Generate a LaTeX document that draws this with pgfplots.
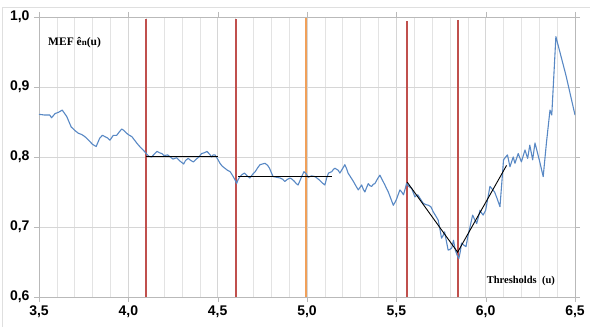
\documentclass[border=0pt]{standalone}
\usepackage{pgfplots}
\pgfplotsset{compat=1.18}
\usepackage{fontspec}
\setmainfont{Liberation Serif}
\newfontfamily\arial{Liberation Sans}
\definecolor{mefblue}{RGB}{88,136,196}
\definecolor{xlred}{RGB}{192,80,77}
\definecolor{xlorange}{RGB}{240,160,90}
\begin{document}
\begin{tikzpicture}
\path[use as bounding box] (0,0) rectangle (590pt,327pt);
\draw[gray!25] (2pt,0) -- (2pt,320pt) -- (590pt,320pt);
\begin{axis}[at={(39pt,30pt)}, anchor=south west, scale only axis,
  width=536pt, height=280pt,
  xmin=3.5, xmax=6.5, ymin=0.6, ymax=1.0,
  xtick={3.5,4.0,4.5,5.0,5.5,6.0,6.5},
  minor x tick num=4,
  ytick={0.6,0.7,0.8,0.9,1.0},
  grid=both,
  major grid style={gray!32, line width=0.6pt},
  minor grid style={gray!22, line width=0.6pt},
  axis line style={gray!55},
  tick style={gray!55},
  tick align=outside,
  major tick length=5pt, minor tick length=0pt,
  /pgf/number format/.cd, fixed, fixed zerofill, precision=1, use comma, assume math mode=true,
  /pgfplots/.cd,
  ticklabel style={font=\arial\bfseries\fontsize{14}{16}\selectfont},
  xticklabel style={yshift=-0.5pt},
  yticklabel style={xshift=-1pt},
]
% vertical threshold lines
\addplot[xlred, line width=2pt] coordinates {(4.1,0.6) (4.1,0.997)};
\addplot[xlred, line width=2pt] coordinates {(4.6,0.6) (4.6,0.997)};
\addplot[xlorange, line width=2pt] coordinates {(4.995,0.6) (4.995,0.998)};
\addplot[xlred, line width=2pt] coordinates {(5.56,0.6) (5.56,0.994)};
\addplot[xlred, line width=2pt] coordinates {(5.845,0.6) (5.845,0.996)};
% MEF curve
\addplot[mefblue, line width=1.1pt, line join=round] coordinates {
(3.50,0.861) (3.53,0.860) (3.56,0.860) (3.57,0.856) (3.59,0.862) (3.61,0.864) (3.63,0.867)
(3.655,0.858) (3.68,0.843) (3.70,0.838) (3.72,0.834) (3.74,0.832) (3.757,0.829) (3.77,0.826)
(3.785,0.822) (3.80,0.818) (3.82,0.815) (3.84,0.827) (3.855,0.831) (3.87,0.829) (3.885,0.827)
(3.897,0.824) (3.916,0.831) (3.935,0.831) (3.95,0.836) (3.963,0.840) (3.975,0.838) (3.99,0.834)
(4.00,0.832) (4.02,0.829) (4.035,0.824) (4.047,0.820) (4.06,0.816) (4.075,0.812) (4.09,0.808)
(4.10,0.805) (4.115,0.801) (4.13,0.800) (4.145,0.804) (4.16,0.808) (4.175,0.806) (4.187,0.805)
(4.20,0.802) (4.22,0.803) (4.235,0.800) (4.25,0.797) (4.27,0.799) (4.29,0.794) (4.31,0.790)
(4.32,0.795) (4.335,0.798) (4.35,0.795) (4.364,0.793) (4.38,0.797) (4.395,0.800) (4.41,0.805)
(4.425,0.806) (4.44,0.808) (4.455,0.804) (4.466,0.800) (4.475,0.803) (4.485,0.803) (4.50,0.797)
(4.513,0.791) (4.525,0.787) (4.54,0.784) (4.555,0.781) (4.57,0.779) (4.58,0.775) (4.587,0.772)
(4.60,0.766) (4.606,0.762) (4.615,0.768) (4.625,0.772) (4.637,0.775) (4.65,0.777) (4.665,0.773)
(4.68,0.770) (4.695,0.775) (4.71,0.779) (4.725,0.785) (4.737,0.789) (4.75,0.790) (4.765,0.791)
(4.78,0.788) (4.79,0.784) (4.80,0.778) (4.81,0.772) (4.83,0.771) (4.85,0.770) (4.865,0.768)
(4.876,0.765) (4.89,0.768) (4.905,0.770) (4.918,0.768) (4.93,0.765) (4.94,0.762) (4.95,0.760)
(4.962,0.767) (4.97,0.772) (4.983,0.779) (4.995,0.776) (5.007,0.771) (5.025,0.773) (5.045,0.772)
(5.06,0.769) (5.07,0.767) (5.085,0.763) (5.10,0.760) (5.11,0.770) (5.12,0.777) (5.138,0.779)
(5.147,0.782) (5.156,0.784) (5.175,0.781) (5.184,0.777) (5.198,0.783) (5.212,0.789) (5.222,0.783)
(5.23,0.777) (5.245,0.771) (5.26,0.765) (5.273,0.759) (5.287,0.753) (5.306,0.760) (5.315,0.754)
(5.324,0.750) (5.333,0.756) (5.343,0.762) (5.352,0.759) (5.362,0.758) (5.371,0.761) (5.38,0.762)
(5.395,0.769) (5.408,0.774) (5.42,0.768) (5.436,0.760) (5.445,0.755) (5.455,0.750) (5.47,0.740)
(5.483,0.731) (5.492,0.735) (5.50,0.739) (5.51,0.746) (5.52,0.753) (5.53,0.750) (5.54,0.746)
(5.55,0.755) (5.557,0.762) (5.57,0.758) (5.586,0.755) (5.595,0.749) (5.604,0.743) (5.612,0.745)
(5.62,0.746) (5.635,0.740) (5.65,0.734) (5.665,0.732) (5.68,0.731) (5.693,0.729) (5.706,0.722)
(5.72,0.716) (5.734,0.710) (5.744,0.697) (5.753,0.684) (5.762,0.688) (5.77,0.693) (5.78,0.680)
(5.79,0.667) (5.80,0.668) (5.81,0.670) (5.82,0.681) (5.83,0.667) (5.84,0.660) (5.85,0.655)
(5.858,0.665) (5.865,0.677) (5.878,0.674) (5.89,0.672) (5.90,0.686) (5.914,0.702) (5.927,0.717)
(5.938,0.711) (5.95,0.705) (5.96,0.715) (5.968,0.724) (5.977,0.720) (5.986,0.717) (6.00,0.724)
(6.012,0.741) (6.024,0.758) (6.037,0.754) (6.05,0.750) (6.065,0.740) (6.08,0.729) (6.09,0.762)
(6.10,0.796) (6.112,0.800) (6.122,0.803) (6.136,0.786) (6.154,0.800) (6.164,0.791) (6.182,0.805)
(6.20,0.793) (6.22,0.810) (6.235,0.798) (6.247,0.817) (6.263,0.796) (6.276,0.820) (6.30,0.796)
(6.322,0.772) (6.34,0.820) (6.36,0.867) (6.37,0.860) (6.393,0.972) (6.45,0.916) (6.50,0.860)
};
% fitted segments
\addplot[black, line width=0.9pt] coordinates {(4.1,0.801) (4.50,0.801)};
\addplot[black, line width=0.9pt] coordinates {(4.614,0.772) (5.138,0.772)};
\addplot[black, line width=0.9pt] coordinates {(5.561,0.764) (5.843,0.664) (6.117,0.788)};
\node[anchor=west, font=\bfseries\fontsize{11.5}{13}\selectfont] at (axis cs:3.532,0.963) {MEF ê{\fontsize{9}{10}\selectfont n}(u)};
\node[font=\bfseries\fontsize{10.5}{12}\selectfont] at (axis cs:6.197,0.6236) {Thresholds\ \ (u)};
\end{axis}
\end{tikzpicture}
\end{document}
